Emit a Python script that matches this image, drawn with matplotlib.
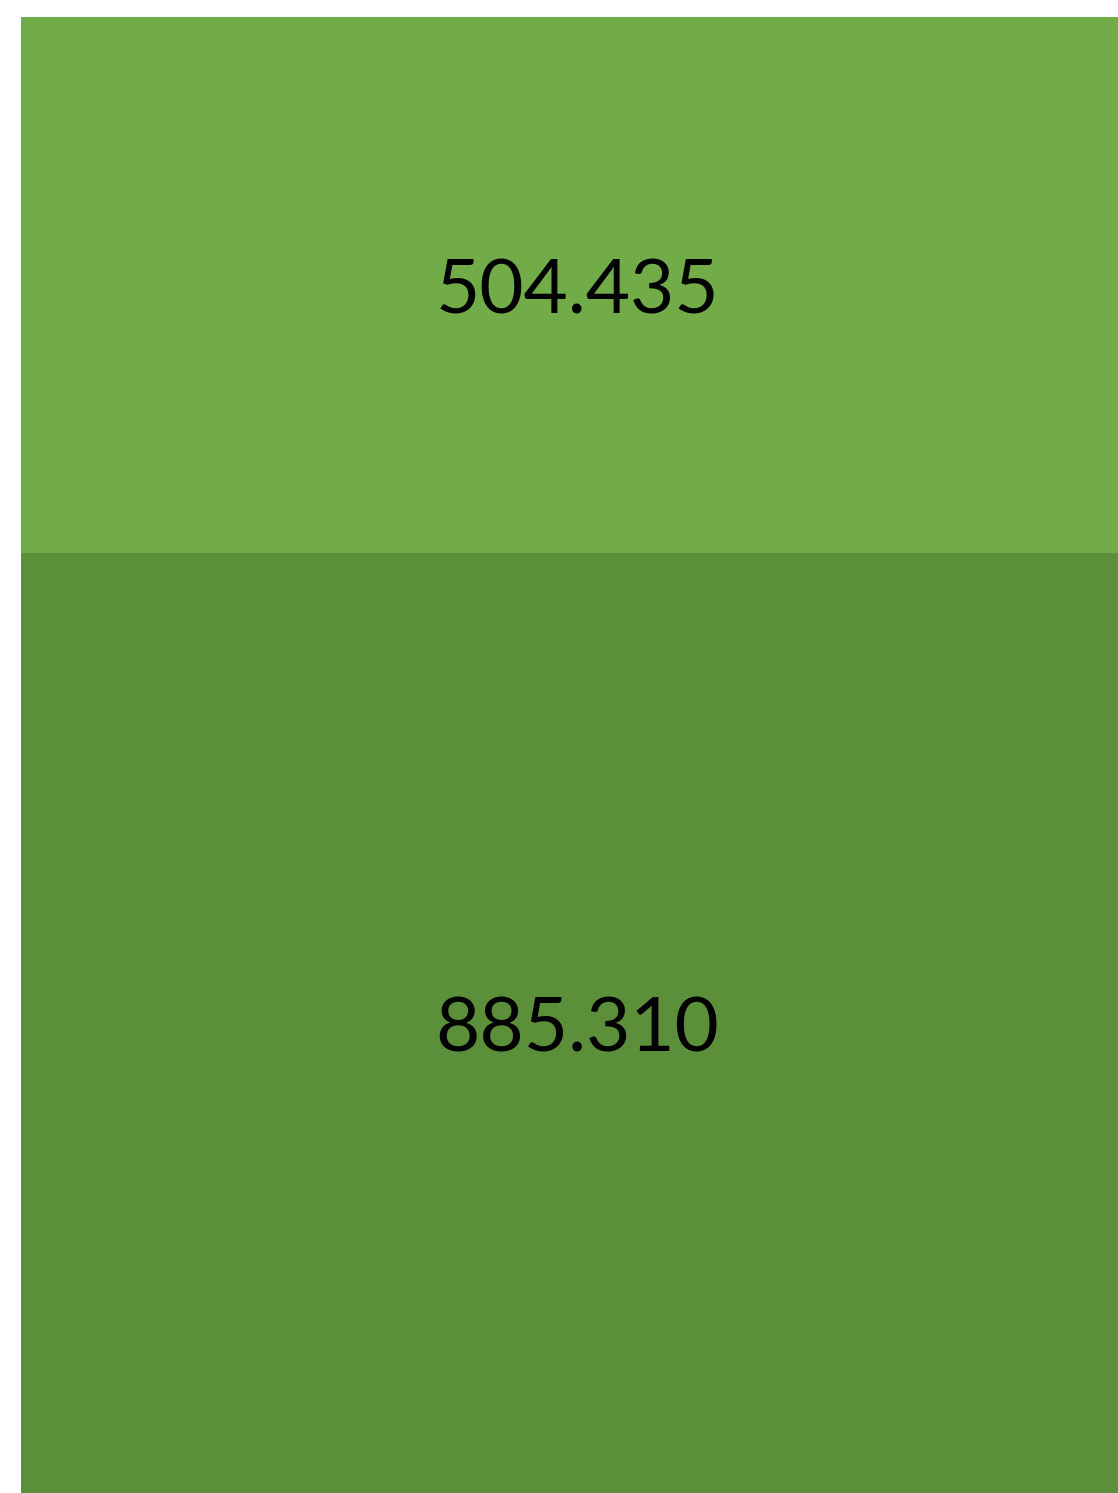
import matplotlib
matplotlib.use("Agg")
import matplotlib.pyplot as plt
from matplotlib.transforms import offset_copy

categories = ["bottom", "top"]
values = [885.310, 504.435]
labels = ["885.310", "504.435"]
colors = ["#5b8f39", "#71ac48"]

fig = plt.figure(figsize=(11.18, 14.93), dpi=100)
ax = fig.add_axes([21 / 1118, 0, (1134 - 21) / 1118, 1 - 17 / 1493])
trans = offset_copy(ax.transData, fig=fig, x=0, y=-7, units="dots")
bottom = 0
for v, lab, c in zip(values, labels, colors):
    ax.bar(0, v, bottom=bottom, width=1.0, color=c, linewidth=0)
    ax.text(0, bottom + v / 2, lab, ha="center", va="center",
            fontsize=55, family="Lato", color="black", transform=trans)
    bottom += v
ax.set_xlim(-0.5, 0.5)
ax.set_ylim(0, sum(values))
ax.axis("off")
fig.savefig("out.png", dpi=100)
